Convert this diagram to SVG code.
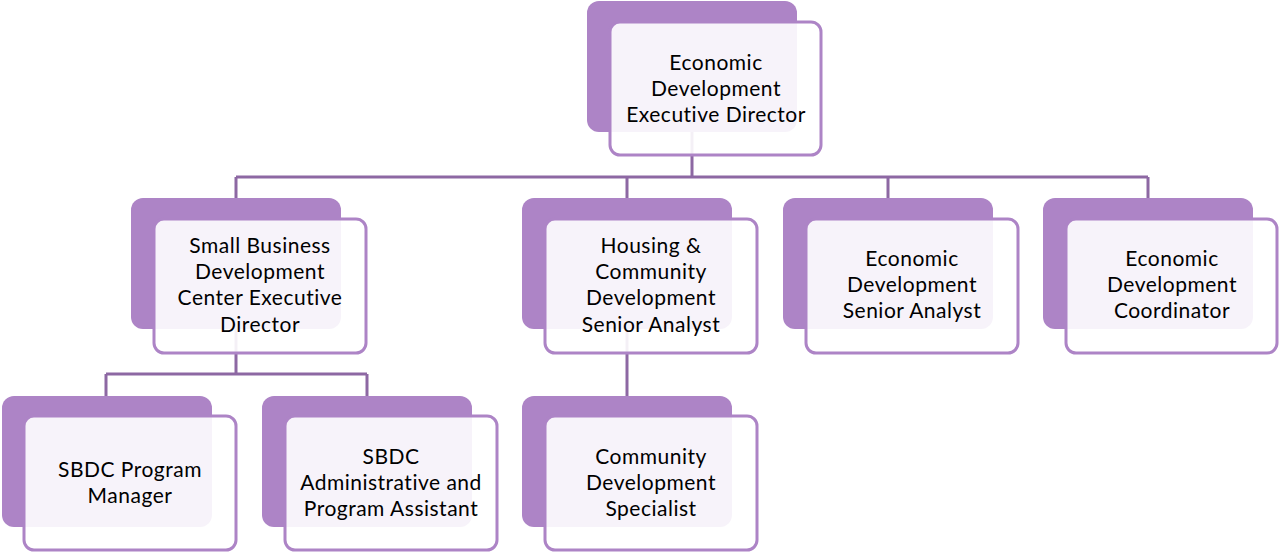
<svg xmlns="http://www.w3.org/2000/svg" width="1279" height="554" viewBox="0 0 1279 554">
<style>
.back{fill:#AD84C6;}
.front{fill:#FFFFFF;fill-opacity:0.9;stroke:#AD84C6;stroke-width:3;}
.conn{fill:none;stroke:#8D68A3;stroke-width:3;}
text{font-family:"Lato","Open Sans",sans-serif;font-size:21px;letter-spacing:0.5px;font-variant-ligatures:none;fill:#000;text-anchor:middle;}
</style>
<rect width="1279" height="554" fill="#FFFFFF"/>
<g id="connectors">
<path class="conn" d="M692 120 V177 M236 177 H1148 M236 177 V210 M627 177 V210 M888 177 V210 M1148 177 V210"/>
<path class="conn" d="M236 320 V374 M106 374 H367 M106 374 V408 M367 374 V408"/>
<path class="conn" d="M627 320 V408"/>
</g>
<g id="n-ed">
<rect class="back" x="587" y="1" width="210" height="131" rx="12"/>
<rect class="front" x="610" y="22" width="211" height="133" rx="10"/>
<text x="716" y="70">Economic</text>
<text x="716" y="96">Development</text>
<text x="716" y="122">Executive Director</text>
</g>
<g id="n-sbdc-ed">
<rect class="back" x="131" y="198" width="210" height="131" rx="12"/>
<rect class="front" x="154" y="219" width="212" height="134" rx="10"/>
<text x="260" y="253">Small Business</text>
<text x="260" y="279">Development</text>
<text x="260" y="305">Center Executive</text>
<text x="260" y="332">Director</text>
</g>
<g id="n-housing">
<rect class="back" x="522" y="198" width="210" height="131" rx="12"/>
<rect class="front" x="545" y="219" width="212" height="134" rx="10"/>
<text x="651" y="253">Housing &amp;</text>
<text x="651" y="279">Community</text>
<text x="651" y="305">Development</text>
<text x="651" y="332">Senior Analyst</text>
</g>
<g id="n-senior">
<rect class="back" x="783" y="198" width="210" height="131" rx="12"/>
<rect class="front" x="806" y="219" width="212" height="134" rx="10"/>
<text x="912" y="266">Economic</text>
<text x="912" y="292">Development</text>
<text x="912" y="318">Senior Analyst</text>
</g>
<g id="n-coord">
<rect class="back" x="1043" y="198" width="210" height="131" rx="12"/>
<rect class="front" x="1066" y="219" width="211" height="134" rx="10"/>
<text x="1172" y="266">Economic</text>
<text x="1172" y="292">Development</text>
<text x="1172" y="318">Coordinator</text>
</g>
<g id="n-pm">
<rect class="back" x="2" y="396" width="210" height="131" rx="12"/>
<rect class="front" x="24" y="416" width="212" height="134" rx="10"/>
<text x="130" y="477">SBDC Program</text>
<text x="130" y="503">Manager</text>
</g>
<g id="n-admin">
<rect class="back" x="262" y="396" width="210" height="131" rx="12"/>
<rect class="front" x="285" y="416" width="212" height="134" rx="10"/>
<text x="391" y="464">SBDC</text>
<text x="391" y="490">Administrative and</text>
<text x="391" y="516">Program Assistant</text>
</g>
<g id="n-community">
<rect class="back" x="522" y="396" width="210" height="131" rx="12"/>
<rect class="front" x="545" y="416" width="212" height="134" rx="10"/>
<text x="651" y="464">Community</text>
<text x="651" y="490">Development</text>
<text x="651" y="516">Specialist</text>
</g>
</svg>
